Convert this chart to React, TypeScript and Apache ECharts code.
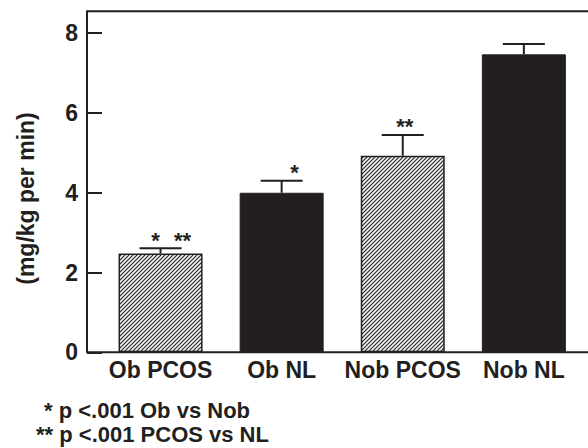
import React, { useEffect, useRef } from "react";
import * as echarts from "echarts";

// ---- data ----
const categories = ["Ob PCOS", "Ob NL", "Nob PCOS", "Nob NL"];
const means = [2.48, 4.0, 4.93, 7.47];
const sem = [0.13, 0.3, 0.52, 0.26];
const significance: string[][] = [["*", "**"], ["*"], ["**"], []];
const yTicks = [0, 2, 4, 6, 8];
const yTitle = "(mg/kg per min)";
const footnotes = ["* p <.001 Ob vs Nob", "** p <.001 PCOS vs NL"];

// ---- style ----
const FONT = "'Liberation Sans', Arial, Helvetica, sans-serif";
const INK = "#231f20";
const SIG_DX: number[][] = [[-5, 22], [13], [2], []];

function makeHatch(): HTMLCanvasElement {
  const c = document.createElement("canvas");
  c.width = 4;
  c.height = 4;
  const ctx = c.getContext("2d")!;
  ctx.fillStyle = "#f4f4f4";
  ctx.fillRect(0, 0, 4, 4);
  ctx.strokeStyle = "#2a2a2a";
  ctx.lineWidth = 1.2;
  ctx.beginPath();
  ctx.moveTo(-1, 5);
  ctx.lineTo(5, -1);
  ctx.moveTo(-1, 1);
  ctx.lineTo(1, -1);
  ctx.moveTo(3, 5);
  ctx.lineTo(5, 3);
  ctx.stroke();
  return c;
}

export default function App() {
  const ref = useRef<HTMLDivElement>(null);
  useEffect(() => {
    document.body.style.margin = "0";
    const chart = echarts.init(ref.current!, null, { renderer: "svg" });
    const hatch = makeHatch();
    const barData = means.map((v, i) => {
      const isPCOS = categories[i].includes("PCOS");
      return {
        value: v,
        itemStyle: isPCOS
          ? {
              color: { image: hatch, repeat: "repeat", imageWidth: 4, imageHeight: 4 } as any,
              borderColor: INK,
              borderWidth: 1.5,
            }
          : { color: INK, borderColor: INK, borderWidth: 1 },
      };
    });
    const errData = means.map((v, i) => [i, v, v + sem[i]]);

    chart.setOption({
      animation: false,
      grid: { left: 100, right: 3.6, top: 11.3, bottom: 95.7, containLabel: false },
      xAxis: {
        type: "category",
        data: categories,
        axisLine: { show: false },
        axisTick: { show: false },
        axisLabel: {
          interval: 0,
          hideOverlap: false,
          margin: 6,
          color: INK,
          fontFamily: FONT,
          fontWeight: "bold",
          fontSize: 23,
        },
      },
      yAxis: {
        type: "value",
        min: 0,
        max: 8.55,
        interval: 2,
        offset: 13,
        splitLine: { show: false },
        axisLine: { show: true, lineStyle: { color: INK, width: 2 } },
        axisTick: { show: true, inside: true, length: 15, lineStyle: { color: INK, width: 2 } },
        axisLabel: {
          margin: 9,
          color: INK,
          fontFamily: FONT,
          fontWeight: "bold",
          fontSize: 23,
          showMaxLabel: false,
          formatter: (v: number) => (yTicks.includes(v) ? String(v) : ""),
        },
      },
      series: [
        {
          type: "bar",
          data: barData,
          barWidth: 84,
          z: 2,
        },
        {
          type: "custom",
          z: 3,
          encode: { x: 0, y: [1, 2] },
          data: errData,
          renderItem: (params: any, api: any) => {
            const i = params.dataIndex;
            const top = api.coord([api.value(0), api.value(1)]);
            const cap = api.coord([api.value(0), api.value(2)]);
            const cx = top[0];
            const style = { stroke: INK, lineWidth: 2 };
            const children: any[] = [
              { type: "line", shape: { x1: cx, y1: top[1], x2: cx, y2: cap[1] }, style },
              { type: "line", shape: { x1: cx - 21, y1: cap[1], x2: cx + 21, y2: cap[1] }, style },
            ];
            significance[i].forEach((t, k) => {
              children.push({
                type: "text",
                x: cx + SIG_DX[i][k],
                y: cap[1] - 8,
                style: {
                  text: t,
                  fill: INK,
                  font: `bold 22px ${FONT}`,
                  align: "center",
                  verticalAlign: "middle",
                },
              });
            });
            return { type: "group", children };
          },
        },
      ],
      graphic: [
        { type: "line", shape: { x1: 87, y1: 11.3, x2: 588, y2: 11.3 }, style: { stroke: INK, lineWidth: 2 } },
        { type: "line", shape: { x1: 87, y1: 352.3, x2: 588, y2: 352.3 }, style: { stroke: INK, lineWidth: 2 } },
        {
          type: "text",
          x: 25.5,
          y: 198.5,
          rotation: Math.PI / 2,
          style: { text: yTitle, fill: INK, font: `bold 23px ${FONT}`, align: "center", verticalAlign: "middle" },
        },
        {
          type: "text",
          x: 44,
          y: 410.5,
          style: { text: footnotes[0], fill: INK, font: `bold 22px ${FONT}`, align: "left", verticalAlign: "middle" },
        },
        {
          type: "text",
          x: 36,
          y: 434.9,
          style: { text: footnotes[1], fill: INK, font: `bold 22px ${FONT}`, align: "left", verticalAlign: "middle" },
        },
      ],
    });
    return () => chart.dispose();
  }, []);
  return <div ref={ref} style={{ width: 588, height: 448 }} />;
}
